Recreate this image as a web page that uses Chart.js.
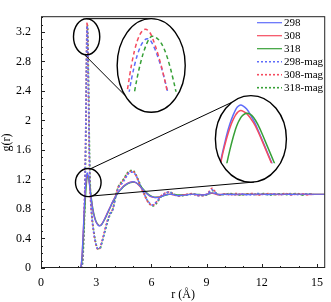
<!DOCTYPE html>
<html>
<head>
<meta charset="utf-8">
<script src="https://cdn.jsdelivr.net/npm/chart.js@4.4.1/dist/chart.umd.min.js"></script>
<style>
  html, body { margin: 0; padding: 0; background: #fff; }
</style>
</head>
<body>
<canvas id="rdf" width="331" height="302"></canvas>
<script>
// r in angstrom, shared by every series
const r = [
  0, 1, 2, 2.1, 2.15, 2.2, 2.24, 2.28, 2.32, 2.36,
  2.4, 2.42, 2.44, 2.46, 2.48, 2.49, 2.5, 2.51, 2.52, 2.54,
  2.56, 2.58, 2.6, 2.63, 2.66, 2.7, 2.75, 2.8, 2.9, 3.0,
  3.1, 3.2, 3.3, 3.45, 3.6, 3.75, 3.9, 4.05, 4.2, 4.35,
  4.5, 4.7, 4.85, 5.0, 5.15, 5.3, 5.45, 5.6, 5.75, 5.9,
  6.05, 6.2, 6.35, 6.5, 6.7, 6.85, 7.0, 7.2, 7.45, 7.7,
  8.0, 8.25, 8.5, 8.75, 9.0, 9.15, 9.3, 9.45, 9.6, 9.8,
  10.0, 10.3, 10.6, 10.9, 11.2, 11.5, 11.8, 12.1, 12.4, 12.7,
  13.0, 13.3, 13.6, 13.9, 14.2, 14.5, 14.8, 15.4
]

const g298 = [
  0, 0, 0, 0, 0.01, 0.08, 0.22, 0.42, 0.64, 0.85,
  1.03, 1.1, 1.17, 1.22, 1.26, 1.275, 1.285, 1.29, 1.29, 1.28,
  1.26, 1.23, 1.2, 1.14, 1.08, 1.0, 0.9, 0.81, 0.69, 0.62,
  0.58, 0.57, 0.59, 0.66, 0.74, 0.82, 0.9, 0.97, 1.03, 1.07,
  1.11, 1.145, 1.16, 1.17, 1.16, 1.13, 1.09, 1.05, 1.01, 0.98,
  0.965, 0.955, 0.955, 0.965, 0.985, 0.995, 1.0, 0.995, 0.98, 0.985,
  0.995, 1.0, 0.995, 0.99, 0.995, 1.01, 1.02, 1.01, 1.0, 0.995,
  1.0, 0.995, 1.0, 1.0, 0.995, 1.0, 1.0, 1.0, 0.995, 1.0,
  1.0, 1.0, 0.995, 1.0, 1.0, 1.0, 1.0, 1.0
]
const g308 = [
  0, 0, 0, 0, 0.01, 0.08, 0.22, 0.41, 0.63, 0.84,
  1.02, 1.09, 1.15, 1.2, 1.235, 1.248, 1.257, 1.262, 1.263, 1.255,
  1.24, 1.215, 1.19, 1.135, 1.075, 0.995, 0.9, 0.81, 0.69, 0.62,
  0.585, 0.575, 0.595, 0.665, 0.745, 0.825, 0.905, 0.975, 1.035, 1.075,
  1.115, 1.15, 1.165, 1.17, 1.155, 1.125, 1.085, 1.045, 1.005, 0.975,
  0.96, 0.955, 0.96, 0.97, 0.99, 1.0, 1.0, 0.99, 0.98, 0.99,
  1.0, 1.0, 0.99, 0.995, 1.0, 1.01, 1.015, 1.005, 0.995, 1.0,
  1.0, 1.0, 0.995, 1.0, 1.0, 1.0, 0.995, 1.0, 1.0, 1.0,
  0.995, 1.0, 1.0, 1.0, 1.0, 0.995, 1.0, 1.0
]
const g318 = [
  0, 0, 0, 0, 0.005, 0.04, 0.13, 0.28, 0.47, 0.68,
  0.87, 0.95, 1.03, 1.1, 1.16, 1.185, 1.205, 1.22, 1.235, 1.248,
  1.25, 1.24, 1.22, 1.17, 1.11, 1.03, 0.93, 0.84, 0.71, 0.63,
  0.59, 0.575, 0.59, 0.65, 0.73, 0.81, 0.89, 0.96, 1.02, 1.065,
  1.105, 1.14, 1.155, 1.165, 1.16, 1.135, 1.1, 1.06, 1.02, 0.99,
  0.97, 0.96, 0.96, 0.965, 0.98, 0.99, 1.0, 1.0, 0.99, 0.99,
  0.995, 1.0, 1.0, 0.995, 0.995, 1.005, 1.015, 1.01, 1.0, 0.995,
  1.0, 1.0, 1.0, 0.995, 1.0, 1.0, 1.0, 1.0, 1.0, 0.995,
  1.0, 1.0, 1.0, 1.0, 0.995, 1.0, 1.0, 1.0
]
const g298mag = [
  0, 0, 0, 0, 0, 0, 0.05, 0.2, 0.5, 0.85,
  1.3, 1.63, 2.07, 2.55, 2.98, 3.14, 3.24, 3.28, 3.26, 3.08,
  2.78, 2.4, 2.0, 1.5, 1.15, 0.92, 0.73, 0.61, 0.43, 0.31,
  0.26, 0.27, 0.34, 0.48, 0.62, 0.73, 0.79, 0.95, 1.08, 1.13,
  1.18, 1.26, 1.3, 1.3, 1.26, 1.18, 1.09, 1.01, 0.93, 0.88,
  0.855, 0.875, 0.92, 0.965, 1.005, 1.025, 1.025, 1.0, 0.98, 0.99,
  0.99, 1.005, 0.98, 0.985, 1.0, 1.03, 1.06, 1.03, 0.995, 1.0,
  0.995, 1.005, 0.99, 1.005, 0.995, 0.99, 1.01, 0.995, 1.0, 1.005,
  0.995, 1.0, 1.01, 0.995, 1.0, 1.005, 0.995, null
]
const g308mag = [
  0, 0, 0, 0, 0, 0, 0.05, 0.2, 0.5, 0.85,
  1.3, 1.65, 2.1, 2.6, 3.05, 3.22, 3.31, 3.33, 3.29, 3.08,
  2.75, 2.35, 1.95, 1.45, 1.12, 0.9, 0.72, 0.6, 0.42, 0.3,
  0.25, 0.27, 0.35, 0.5, 0.64, 0.74, 0.8, 0.98, 1.1, 1.15,
  1.2, 1.28, 1.31, 1.31, 1.26, 1.17, 1.08, 1.0, 0.92, 0.87,
  0.85, 0.87, 0.92, 0.97, 1.01, 1.03, 1.03, 1.0, 0.975, 0.985,
  1.0, 1.01, 0.985, 0.98, 0.995, 1.04, 1.08, 1.04, 0.99, 0.995,
  1.005, 0.99, 1.01, 0.995, 1.0, 1.01, 0.99, 1.0, 1.01, 0.995,
  1.0, 1.01, 0.99, 1.0, 1.005, 0.995, 1.0, null
]
const g318mag = [
  0, 0, 0, 0, 0, 0, 0.03, 0.12, 0.35, 0.65,
  1.1, 1.42, 1.82, 2.3, 2.78, 3.0, 3.15, 3.25, 3.3, 3.24,
  3.0, 2.65, 2.28, 1.72, 1.3, 0.98, 0.78, 0.64, 0.45, 0.32,
  0.26, 0.26, 0.33, 0.47, 0.61, 0.72, 0.79, 0.96, 1.1, 1.16,
  1.21, 1.29, 1.32, 1.32, 1.27, 1.19, 1.1, 1.02, 0.93, 0.87,
  0.84, 0.855, 0.9, 0.96, 1.0, 1.02, 1.03, 1.005, 0.98, 0.98,
  1.0, 1.0, 0.99, 0.985, 0.99, 1.02, 1.05, 1.03, 1.0, 0.99,
  1.0, 1.01, 0.995, 0.99, 1.005, 1.0, 0.995, 1.01, 0.99, 1.0,
  1.005, 0.995, 1.0, 1.01, 0.99, 1.0, 1.005, null
]

const labels = ['298', '308', '318', '298-mag', '308-mag', '318-mag']
const xTicks = [0, 3, 6, 9, 12, 15]
const yTicks = [0, 0.4, 0.8, 1.2, 1.6, 2, 2.4, 2.8, 3.2]

const blue = 'rgb(95,108,250)'
const red = 'rgb(245,75,95)'
const green = 'rgb(55,160,55)'
const serif = 'Liberation Serif'

// zoomed views: ellipses given in data units, view = data window shown inside the big one
const insets = [
  {
    sets: [3, 4, 5], dash: [4, 3],
    small: { r: 2.48, g: 3.135, rx: 0.714, ry: 0.245 },
    big: { r: 5.99, g: 2.746, rx: 1.85, ry: 0.635 },
    view: { r0: 2.461, r1: 2.575, g0: 2.885, g1: 3.38 },
    links: [[-90, -90], [100, 140]]
  },
  {
    sets: [0, 1, 2], dash: [],
    small: { r: 2.57, g: 1.158, rx: 0.696, ry: 0.19 },
    big: { r: 11.41, g: 1.75, rx: 1.93, ry: 0.587 },
    view: { r0: 2.365, r1: 2.785, g0: 0.907, g1: 1.337 },
    links: [[-80, -122], [73, 85]]
  }
]

const series = (ys) => r.map((v, i) => ({ x: v, y: ys[i] }))

const frameTicks = {
  id: 'frameTicks',
  afterDraw(chart) {
    const { ctx, chartArea: a, scales: { x, y } } = chart
    ctx.save()
    ctx.strokeStyle = '#222'
    ctx.lineWidth = 1
    ctx.beginPath()
    for (let v = 0; v <= 15; v++) {
      const px = Math.round(x.getPixelForValue(v)) + 0.5
      const len = v % 3 === 0 ? 4 : 2
      ctx.moveTo(px, a.bottom); ctx.lineTo(px, a.bottom - len)
    }
    for (let k = 0; k <= 34; k++) {
      const py = Math.round(y.getPixelForValue(k / 10)) + 0.5
      const len = k % 4 === 0 ? 4 : 2
      ctx.moveTo(a.left, py); ctx.lineTo(a.left + len, py)
    }
    ctx.stroke()
    ctx.strokeRect(a.left + 0.5, a.top - 0.5, a.right - a.left - 1, a.bottom - a.top)
    ctx.restore()
  }
}

const insetPlugin = {
  id: 'insets',
  afterDatasetsDraw(chart) {
    const { ctx, scales: { x, y } } = chart
    const toPx = e => {
      const cx = x.getPixelForValue(e.r), cy = y.getPixelForValue(e.g)
      return { cx, cy, rx: x.getPixelForValue(e.r + e.rx) - cx, ry: y.getPixelForValue(e.g - e.ry) - cy }
    }
    const onEllipse = (e, deg) => {
      const t = deg * Math.PI / 180
      return { x: e.cx + e.rx * Math.cos(t), y: e.cy + e.ry * Math.sin(t) }
    }
    insets.forEach(ins => {
      const s = toPx(ins.small), b = toPx(ins.big), v = ins.view
      ctx.save()
      ctx.strokeStyle = '#000'
      ctx.lineWidth = 1
      ins.links.forEach(([a1, a2]) => {
        const p = onEllipse(s, a1), q = onEllipse(b, a2)
        ctx.beginPath(); ctx.moveTo(p.x, p.y); ctx.lineTo(q.x, q.y); ctx.stroke()
      })
      ctx.beginPath()
      ctx.ellipse(b.cx, b.cy, b.rx, b.ry, 0, 0, Math.PI * 2)
      ctx.fillStyle = '#fff'
      ctx.fill()

      ctx.save()
      ctx.clip()
      const bx = b.cx - b.rx, by = b.cy - b.ry, w = 2 * b.rx, h = 2 * b.ry
      ctx.beginPath(); ctx.rect(bx, by, w, h * 0.78); ctx.clip()
      ins.sets.forEach(i => {
        const ds = chart.data.datasets[i]
        const pts = []
        ds.data.forEach(p => {
          if (p.y == null || p.x < v.r0 - 0.05 || p.x > v.r1 + 0.05) return
          pts.push([bx + (p.x - v.r0) / (v.r1 - v.r0) * w, by + (v.g1 - p.y) / (v.g1 - v.g0) * h])
        })
        ctx.beginPath()
        ctx.moveTo(pts[0][0], pts[0][1])
        for (let k = 1; k < pts.length - 1; k++) {
          const mx = (pts[k][0] + pts[k + 1][0]) / 2, my = (pts[k][1] + pts[k + 1][1]) / 2
          ctx.quadraticCurveTo(pts[k][0], pts[k][1], mx, my)
        }
        ctx.lineTo(pts[pts.length - 1][0], pts[pts.length - 1][1])
        ctx.strokeStyle = ds.borderColor
        ctx.setLineDash(ins.dash)
        ctx.lineWidth = 1.5
        ctx.stroke()
      })
      ctx.restore()

      ctx.setLineDash([])
      ctx.lineWidth = 1.4
      ctx.beginPath(); ctx.ellipse(s.cx, s.cy, s.rx, s.ry, 0, 0, Math.PI * 2); ctx.stroke()
      ctx.beginPath(); ctx.ellipse(b.cx, b.cy, b.rx, b.ry, 0, 0, Math.PI * 2); ctx.stroke()
      ctx.restore()
    })
  }
}

const legendPlugin = {
  id: 'boxLegend',
  afterDraw(chart) {
    const { ctx, chartArea: a } = chart
    ctx.save()
    ctx.font = '11px ' + serif
    ctx.textBaseline = 'middle'
    ctx.fillStyle = '#000'
    chart.data.datasets.forEach((ds, i) => {
      const yy = a.top + 5.5 + i * 13
      ctx.beginPath()
      ctx.setLineDash(ds.borderDash || [])
      ctx.strokeStyle = ds.borderColor
      ctx.lineWidth = ds.borderWidth
      ctx.moveTo(257, yy); ctx.lineTo(282, yy)
      ctx.stroke()
      ctx.fillText(ds.label, 284, yy + 0.5)
    })
    ctx.restore()
  }
}

const line = (label, ys, color, dotted) => ({
  label,
  data: series(ys),
  borderColor: color,
  borderWidth: dotted ? 1.6 : 1.2,
  borderDash: dotted ? [2, 2] : [],
  pointRadius: 0,
  cubicInterpolationMode: 'monotone',
  fill: false
})

new Chart(document.getElementById('rdf'), {
  type: 'line',
  data: {
    datasets: [
      line(labels[0], g298, blue, false),
      line(labels[1], g308, red, false),
      line(labels[2], g318, green, false),
      line(labels[3], g298mag, blue, true),
      line(labels[4], g308mag, red, true),
      line(labels[5], g318mag, green, true)
    ]
  },
  options: {
    responsive: false,
    animation: false,
    layout: { padding: { top: 2, right: 2, left: 0, bottom: 0 } },
    plugins: { legend: { display: false }, tooltip: { enabled: false } },
    scales: {
      x: {
        type: 'linear', min: 0, max: 15.45,
        grid: { display: false, drawTicks: false },
        border: { display: false },
        afterBuildTicks: s => { s.ticks = xTicks.map(v => ({ value: v })) },
        afterFit: s => { s.height = 34 },
        ticks: { padding: 8, color: '#000', maxRotation: 0, font: { family: serif, size: 12 }, callback: v => String(v) },
        title: { display: true, text: 'r (Å)', color: '#000', padding: 0, font: { family: serif, size: 12 } }
      },
      y: {
        type: 'linear', min: 0, max: 3.4,
        grid: { display: false, drawTicks: false },
        border: { display: false },
        afterBuildTicks: s => { s.ticks = yTicks.map(v => ({ value: v })) },
        afterFit: s => { s.width = 41 },
        ticks: { padding: 10, color: '#000', font: { family: serif, size: 12 }, callback: v => String(v) },
        title: { display: true, text: 'g(r)', color: '#000', padding: 0, font: { family: serif, size: 12 } }
      }
    }
  },
  plugins: [frameTicks, insetPlugin, legendPlugin]
})
</script>
</body>
</html>
